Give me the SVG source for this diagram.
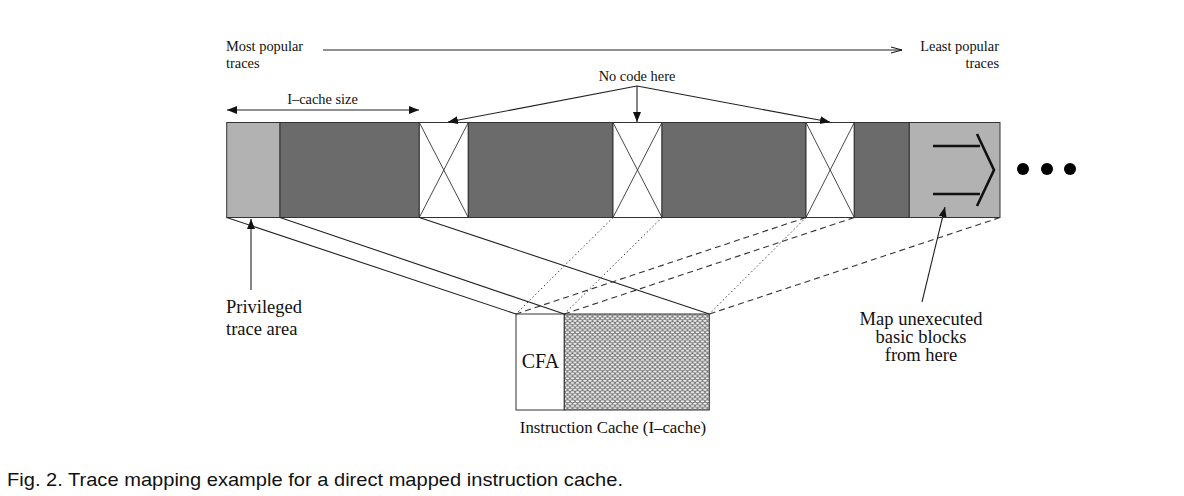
<svg xmlns="http://www.w3.org/2000/svg" width="1184" height="496" viewBox="0 0 1184 496">
<style>
text{font-family:"Liberation Serif","Times New Roman",serif;fill:#111}
text.cap{font-family:"Liberation Sans",Arial,sans-serif}
.lbl{font-size:14.4px}
.big{font-size:18.5px}
.ln{stroke:#222;stroke-width:1.1;fill:none}
.dot{stroke:#333;stroke-width:1;stroke-dasharray:1.4 2.6;fill:none}
.dash{stroke:#333;stroke-width:1.1;stroke-dasharray:6 4;fill:none}
.light{fill:#b2b2b2;stroke:#333;stroke-width:1}
.dark{fill:#6b6b6b;stroke:#333;stroke-width:1}
.nocode{fill:#fff;stroke:#333;stroke-width:1}
.x{stroke:#333;stroke-width:0.9}
.thick{stroke:#111;stroke-width:2.6;fill:none;stroke-linecap:butt}
</style>
<defs>
<marker id="ah" markerUnits="userSpaceOnUse" markerWidth="11" markerHeight="9" refX="10" refY="4" orient="auto-start-reverse">
<path d="M0,0 L10,4 L0,8 z" fill="#111"/>
</marker>
<marker id="open" markerUnits="userSpaceOnUse" markerWidth="12" markerHeight="9" refX="11" refY="4" orient="auto">
<path d="M0,1 L11,4 L0,7" fill="none" stroke="#111" stroke-width="1"/>
</marker>
<pattern id="mesh" patternUnits="userSpaceOnUse" width="5" height="4.6">
<rect width="5" height="4.6" fill="#7c7c7c"/>
<ellipse cx="2.5" cy="1.15" rx="1.8" ry="0.85" fill="#f4f4f4"/>
<ellipse cx="0" cy="3.45" rx="1.8" ry="0.85" fill="#f4f4f4"/>
<ellipse cx="5" cy="3.45" rx="1.8" ry="0.85" fill="#f4f4f4"/>
</pattern>
</defs>
<rect width="1184" height="496" fill="#fff"/>

<g id="trace-bar">
<rect id="privileged" class="light" x="226.7" y="122.5" width="53.3" height="95"/>
<rect class="dark" x="280" y="122.5" width="139.3" height="95"/>
<g id="nocode1"><rect class="nocode" x="419.3" y="122.5" width="49" height="95"/><line class="x" x1="419.3" y1="122.5" x2="468.3" y2="217.5"/><line class="x" x1="468.3" y1="122.5" x2="419.3" y2="217.5"/></g>
<rect class="dark" x="468.3" y="122.5" width="144.7" height="95"/>
<g id="nocode2"><rect class="nocode" x="613" y="122.5" width="49" height="95"/><line class="x" x1="613" y1="122.5" x2="662" y2="217.5"/><line class="x" x1="662" y1="122.5" x2="613" y2="217.5"/></g>
<rect class="dark" x="662" y="122.5" width="144" height="95"/>
<g id="nocode3"><rect class="nocode" x="806" y="122.5" width="48.3" height="95"/><line class="x" x1="806" y1="122.5" x2="854.3" y2="217.5"/><line class="x" x1="854.3" y1="122.5" x2="806" y2="217.5"/></g>
<rect class="dark" x="854.3" y="122.5" width="55" height="95"/>
<g id="unexecuted">
<rect class="light" x="909.3" y="122.5" width="90.7" height="95"/>
<line class="thick" x1="933" y1="146" x2="980" y2="146"/>
<line class="thick" x1="933" y1="194" x2="980" y2="194"/>
<polyline class="thick" points="977,134 994,170 977,206"/>
</g>
</g>

<g id="ellipsis" fill="#000">
<circle cx="1023" cy="169" r="6"/>
<circle cx="1047" cy="169" r="6"/>
<circle cx="1070" cy="169" r="6"/>
</g>

<g id="icache">
<rect x="516" y="314" width="48.3" height="96" fill="#fff" stroke="#333" stroke-width="1"/>
<rect x="564.3" y="314" width="145" height="96" fill="url(#mesh)" stroke="#333" stroke-width="1"/>
<text x="540.5" y="368" font-size="20" text-anchor="middle">CFA</text>
<text x="613" y="433" font-size="16.8" text-anchor="middle">Instruction Cache (I–cache)</text>
</g>

<g id="connectors">
<line class="ln" x1="226.7" y1="217.5" x2="516" y2="314"/>
<line class="ln" x1="280" y1="217.5" x2="564.3" y2="314"/>
<line class="ln" x1="419.3" y1="217.5" x2="709.3" y2="314"/>
<line class="dot" x1="613" y1="217.5" x2="516" y2="314"/>
<line class="dot" x1="662" y1="217.5" x2="564.3" y2="314"/>
<line class="dot" x1="806" y1="217.5" x2="709.3" y2="314"/>
<line class="dash" x1="806" y1="217.5" x2="516" y2="314"/>
<line class="dash" x1="854.3" y1="217.5" x2="564.3" y2="314"/>
<line class="dash" x1="1000" y1="217.5" x2="709.3" y2="314"/>
<line class="ln" x1="323" y1="50" x2="902" y2="50" marker-end="url(#open)"/>
<line class="ln" x1="227" y1="110" x2="419" y2="110" marker-start="url(#ah)" marker-end="url(#ah)"/>
<line class="ln" x1="637" y1="86" x2="448" y2="122" marker-end="url(#ah)"/>
<line class="ln" x1="637" y1="86" x2="637" y2="122" marker-end="url(#ah)"/>
<line class="ln" x1="637" y1="86" x2="830" y2="122" marker-end="url(#ah)"/>
<line class="ln" x1="251" y1="290" x2="251" y2="219" marker-end="url(#ah)"/>
<line class="ln" x1="922" y1="302" x2="945" y2="207" marker-end="url(#ah)"/>
</g>

<g id="labels">
<text class="lbl" x="226" y="51">Most popular</text>
<text class="lbl" x="226" y="68">traces</text>
<text class="lbl" x="999" y="51" text-anchor="end">Least popular</text>
<text class="lbl" x="999" y="68" text-anchor="end">traces</text>
<text class="lbl" x="637" y="80.5" text-anchor="middle">No code here</text>
<text class="lbl" x="322.5" y="104" text-anchor="middle">I–cache size</text>
<text class="big" x="226" y="313">Privileged</text>
<text class="big" x="226" y="335">trace area</text>
<text class="big" x="921" y="325" text-anchor="middle">Map unexecuted</text>
<text class="big" x="921" y="343" text-anchor="middle">basic blocks</text>
<text class="big" x="921" y="361" text-anchor="middle">from here</text>
</g>

<text class="cap" x="7" y="486" font-size="19" textLength="616" lengthAdjust="spacingAndGlyphs">Fig. 2. Trace mapping example for a direct mapped instruction cache.</text>
</svg>
